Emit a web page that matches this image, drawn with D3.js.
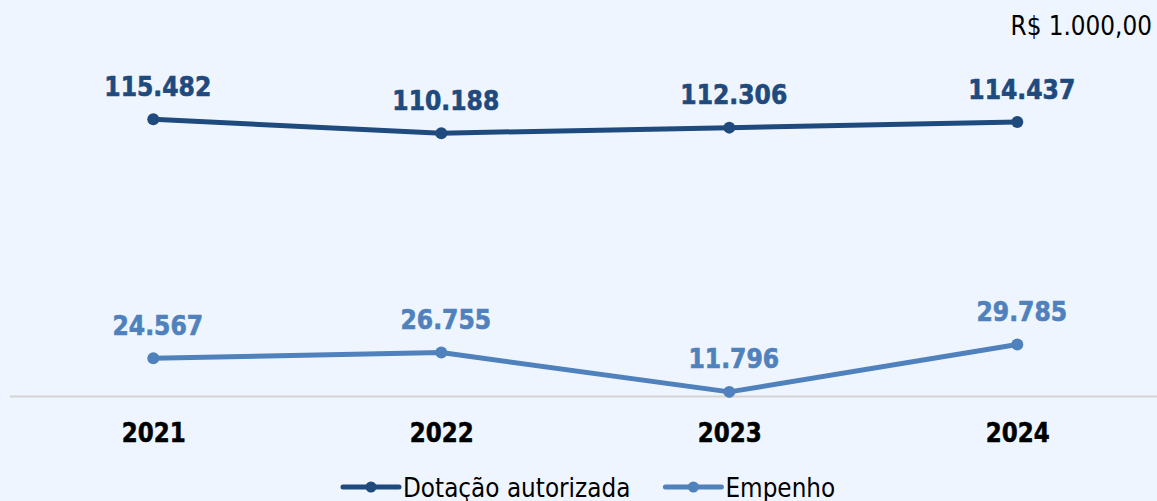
<!DOCTYPE html>
<html>
<head>
<meta charset="utf-8">
<script src="https://cdn.jsdelivr.net/npm/d3@7/dist/d3.min.js"></script>
<style>
  html, body { margin: 0; padding: 0; background: #EFF5FE; }
  svg { display: block; }
  text { font-family: "DejaVu Sans", Verdana, sans-serif; }
</style>
</head>
<body>
<svg id="chart" width="1157" height="501"></svg>
<script>
const categories = ["2021", "2022", "2023", "2024"];
const dotacao = [115482, 110188, 112306, 114437];
const empenho = [24567, 26755, 11796, 29785];
const seriesNames = ["Dotação autorizada", "Empenho"];
const seriesColors = ["#1F4A7E", "#4F81BD"];
const unitLabel = "R$ 1.000,00";

const W = 1157, H = 501;
const svg = d3.select("#chart");
svg.append("rect").attr("width", W).attr("height", H).attr("fill", "#EFF5FE");

const x = d3.scalePoint().domain(categories).range([9.3, 1161.3]).padding(0.5);
const y = d3.scaleLinear().domain([10000, 120000]).range([396.6, 107.4]);

const loc = d3.formatLocale({decimal: ",", thousands: ".", grouping: [3], currency: ["R$ ", ""]});
const fmt = loc.format(",d");

// axis baseline
svg.append("line")
  .attr("x1", 10).attr("x2", W)
  .attr("y1", y(10000)).attr("y2", y(10000))
  .attr("stroke", "#D4D4D4").attr("stroke-width", 2);

// category labels
const xAxis = d3.axisBottom(x).tickSize(0).tickPadding(0);
const gx = svg.append("g").attr("transform", `translate(0,${y(10000)})`).call(xAxis);
gx.select(".domain").remove();
gx.selectAll(".tick text")
  .attr("y", 0).attr("dy", 0)
  .attr("transform", "translate(0,45) scale(1,1.12)")
  .attr("font-size", 23).attr("font-weight", "bold").attr("fill", "#000")
  .attr("stroke", "#000").attr("stroke-width", 0.5)
  .attr("font-family", "DejaVu Sans");

const allSeries = [dotacao, empenho];
const line = d3.line().x((d, i) => x(categories[i])).y(d => y(d));

allSeries.forEach((vals, si) => {
  const col = seriesColors[si];
  svg.append("path").datum(vals)
    .attr("d", line).attr("fill", "none")
    .attr("stroke", col).attr("stroke-width", 5)
    .attr("stroke-linejoin", "round");
  svg.selectAll(null).data(vals).enter().append("circle")
    .attr("cx", (d, i) => x(categories[i])).attr("cy", d => y(d))
    .attr("r", 6).attr("fill", col);
  svg.selectAll(null).data(vals).enter().append("text")
    .attr("transform", (d, i) => `translate(${x(categories[i]) + 4.5},${y(d) - 23.5}) scale(1,1.12)`)
    .attr("text-anchor", "middle")
    .attr("font-size", 23.5).attr("font-weight", "bold").attr("fill", col)
    .attr("stroke", col).attr("stroke-width", 0.6)
    .text(d => fmt(d));
});

// unit label
svg.append("text")
  .attr("transform", "translate(1152,35) scale(1,1.14)")
  .attr("text-anchor", "end")
  .attr("font-size", 23.2).attr("fill", "#000")
  .text(unitLabel);

// legend
const lg = svg.append("g");
let cx = 343;
seriesNames.forEach((name, si) => {
  const g = lg.append("g").attr("transform", `translate(${cx},0)`);
  g.append("line").attr("x1", 0).attr("x2", 56).attr("y1", 487).attr("y2", 487)
    .attr("stroke", seriesColors[si]).attr("stroke-width", 5).attr("stroke-linecap", "round");
  g.append("circle").attr("cx", 28).attr("cy", 487).attr("r", 5.5).attr("fill", seriesColors[si]);
  const t = g.append("text")
    .attr("transform", "translate(60,497) scale(1,1.12)")
    .attr("font-size", 23.2).attr("fill", "#000")
    .text(name);
  cx += 60 + t.node().getComputedTextLength() + 35;
});
</script>
</body>
</html>
